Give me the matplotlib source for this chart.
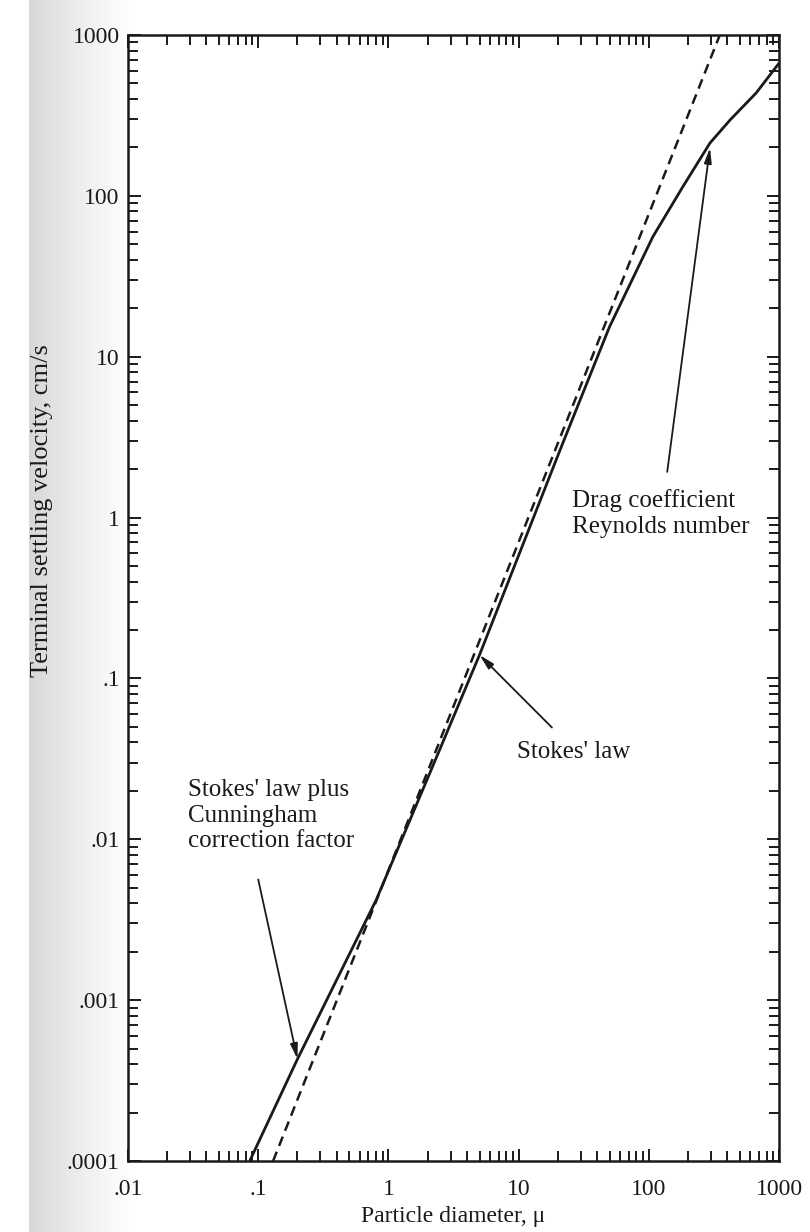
import numpy as np
import matplotlib.pyplot as plt
from matplotlib.ticker import FixedLocator, LogLocator, NullFormatter

# Solid curve: Stokes' law + Cunningham correction / drag coefficient region
solid_d = [0.086, 0.20, 0.805, 2.47, 5.0, 20.8, 49.7, 107, 182, 294, 419, 665, 1000]
solid_v = [1e-4, 4.3e-4, 4.2e-3, 0.036, 0.14, 2.64, 15.3, 55.6, 114, 213, 296, 436, 670]

# Dashed line: plain Stokes' law
stokes_d = [0.13, 350]
stokes_v = [1e-4, 1000]

x_ticks = [0.01, 0.1, 1, 10, 100, 1000]
x_labels = ['.01', '.1', '1', '10', '100', '1000']
y_ticks = [1e-4, 1e-3, 1e-2, 1e-1, 1, 10, 100, 1000]
y_labels = ['.0001', '.001', '.01', '.1', '1', '10', '100', '1000']

plt.rcParams['font.family'] = ['Liberation Serif', 'DejaVu Serif']
ink = '#1a1a1a'
fs = 18

fig = plt.figure(figsize=(8.1, 12.32), dpi=100)

# faint shading along the left edge, like the page gutter of the scan
bg = fig.add_axes([0, 0, 1, 1], zorder=-10)
xx = np.linspace(0, 1, 810)
shade = np.where(xx < 0.035, 0.0, np.clip(1 - (xx - 0.035) / 0.14, 0, 1) ** 1.3 * 0.16)
bg.imshow(1 - np.tile(shade, (10, 1)), cmap='gray', vmin=0, vmax=1, aspect='auto',
          extent=[0, 1, 0, 1])
bg.axis('off')

ax = fig.add_axes([0.158, 0.0576, 0.804, 0.914])
ax.patch.set_alpha(0)
ax.set_xscale('log')
ax.set_yscale('log')
ax.set_xlim(0.01, 1000)
ax.set_ylim(1e-4, 1000)

ax.plot(solid_d, solid_v, color=ink, lw=2.0, solid_capstyle='butt')
ax.plot(stokes_d, stokes_v, color=ink, lw=1.8, ls=(0, (4, 2.5)))

ax.xaxis.set_major_locator(FixedLocator(x_ticks))
ax.set_xticklabels(x_labels)
ax.yaxis.set_major_locator(FixedLocator(y_ticks))
ax.set_yticklabels(y_labels)
ax.xaxis.set_minor_locator(LogLocator(base=10, subs=np.arange(2, 10), numticks=20))
ax.yaxis.set_minor_locator(LogLocator(base=10, subs=np.arange(2, 10), numticks=20))
ax.xaxis.set_minor_formatter(NullFormatter())
ax.yaxis.set_minor_formatter(NullFormatter())

ax.tick_params(which='both', direction='in', top=True, right=True, color=ink, width=1.4)
ax.tick_params(which='major', length=9, labelsize=17, labelcolor=ink)
ax.tick_params(axis='x', which='major', pad=13)
ax.tick_params(axis='y', which='major', pad=6)
ax.tick_params(which='minor', length=7)
for s in ax.spines.values():
    s.set_linewidth(1.8)
    s.set_color(ink)

ax.set_xlabel('Particle diameter, \u03bc', fontsize=17, color=ink)
ax.xaxis.set_label_coords(0.5, -0.040)
ax.set_ylabel('Terminal settling velocity, cm/s', fontsize=19, color=ink)
ax.yaxis.set_label_coords(-0.115, 0.578)

arrow = dict(arrowstyle='-|>,head_length=0.9,head_width=0.22', color=ink, lw=1.3,
             shrinkA=0, shrinkB=0)

# Stokes' law plus Cunningham correction factor
ax.text(0.092, 0.339, "Stokes' law plus\nCunningham\ncorrection factor", transform=ax.transAxes,
        ha='left', va='top', fontsize=fs, color=ink, linespacing=1.2)
ax.annotate('', xy=(0.20, 4.3e-4), xytext=(0.200, 0.250), textcoords='axes fraction',
            arrowprops=arrow)

# Stokes' law
ax.text(0.598, 0.363, "Stokes' law", transform=ax.transAxes, ha='left', va='center',
        fontsize=fs, color=ink)
ax.annotate('', xy=(5.0, 0.14), xytext=(0.651, 0.385), textcoords='axes fraction',
            arrowprops=arrow)

# Drag coefficient / Reynolds number
ax.text(0.682, 0.575, "Drag coefficient\nReynolds number", transform=ax.transAxes,
        ha='left', va='center', fontsize=fs, color=ink, linespacing=1.2)
ax.annotate('', xy=(294, 199), xytext=(0.828, 0.612), textcoords='axes fraction',
            arrowprops=arrow)

fig.savefig('out.png', dpi=100)
